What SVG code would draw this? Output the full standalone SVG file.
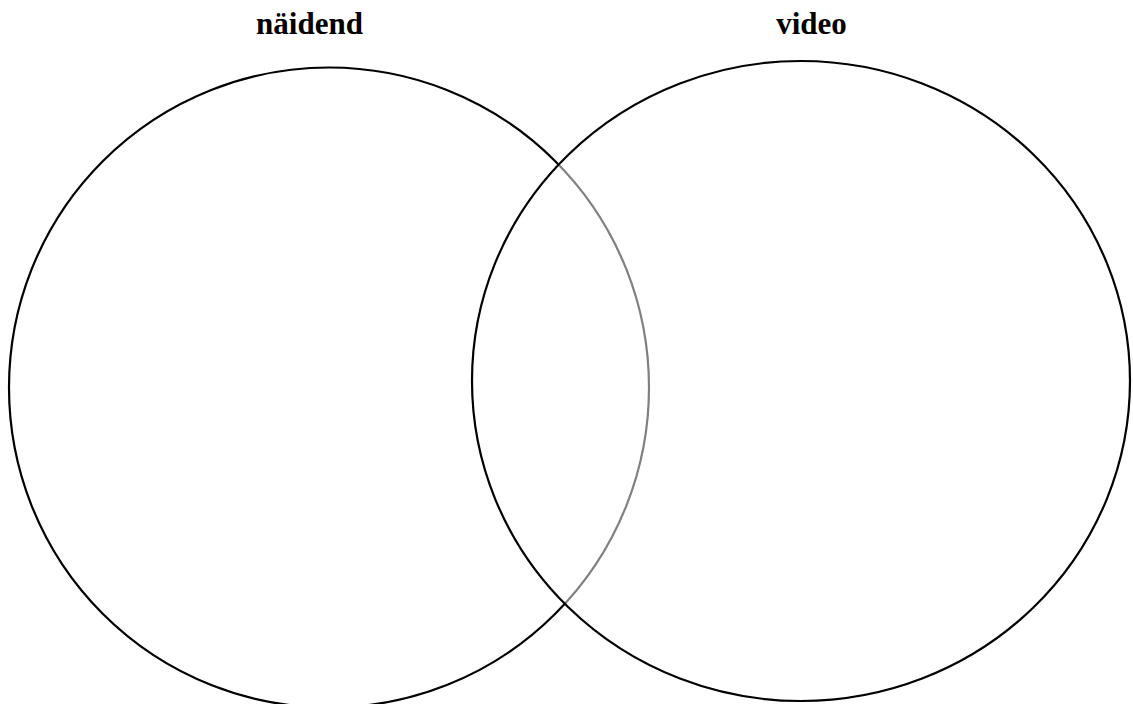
<svg xmlns="http://www.w3.org/2000/svg" width="1133" height="704" viewBox="0 0 1133 704">
<style>
.lbl{font-family:"Liberation Serif","Times New Roman",serif;font-weight:bold;font-size:31px;fill:#000;text-anchor:middle}
.set{stroke:#000;stroke-width:2.2}
</style>
<rect width="1133" height="704" fill="#fff"/>
<g id="set-naidend">
<circle class="set" cx="329" cy="387.5" r="320" fill="none"/>
<text class="lbl" x="309.5" y="34">näidend</text>
</g>
<g id="set-video">
<ellipse class="set" cx="801" cy="381" rx="329" ry="320" fill="#fff" fill-opacity="0.5"/>
<text class="lbl" x="811.5" y="34">video</text>
</g>
<g id="connectors"></g>
</svg>
